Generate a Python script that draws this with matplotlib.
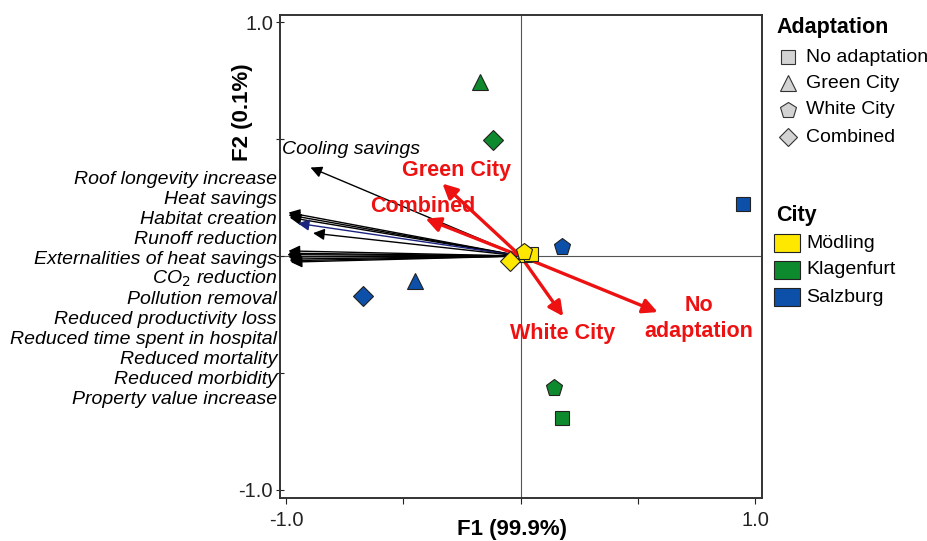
import matplotlib
matplotlib.use("Agg")
import matplotlib.pyplot as plt
from matplotlib.patches import Rectangle

plt.rcParams['font.family'] = ['Liberation Sans', 'DejaVu Sans']

# ---------------- data ----------------
var_names = ["Cooling savings", "Roof longevity increase", "Heat savings", "Habitat creation",
             "Runoff reduction", "Externalities of heat savings", "CO$_2$ reduction",
             "Pollution removal", "Reduced productivity loss", "Reduced time spent in hospital",
             "Reduced mortality", "Reduced morbidity", "Property value increase"]
var_x = [-0.896, -0.99, -0.99, -0.985, -0.95, -0.885, -0.99, -0.995, -0.99, -0.985, -0.98, -0.99, -0.985]
var_y = [0.379, 0.186, 0.176, 0.165, 0.140, 0.098, 0.022, 0.006, -0.004, -0.013, -0.026, 0.012, -0.020]
var_col = ["black", "black", "black", "black", "#1a237e", "black", "black", "black", "black",
           "black", "black", "black", "black"]

adapt_names = ["Green City", "Combined", "White City", "No\nadaptation"]
adapt_x = [-0.333, -0.405, 0.182, 0.585]
adapt_y = [0.310, 0.160, -0.258, -0.240]
adapt_label_x = [-0.275, -0.416, 0.18, 0.761]
adapt_label_y = [0.368, 0.214, -0.333, -0.266]

cities = ["Mödling", "Klagenfurt", "Salzburg"]
city_colors = ["#FFE800", "#0E8A2E", "#0D50AA"]
adaptations = ["No adaptation", "Green City", "White City", "Combined"]
adapt_markers = ["s", "^", "p", "D"]

# scores: city -> [No adaptation, Green City, White City, Combined]
score_x = {"Mödling": [0.043, 0.013, 0.013, -0.043],
           "Klagenfurt": [0.175, -0.175, 0.141, -0.117],
           "Salzburg": [0.951, -0.452, 0.179, -0.670]}
score_y = {"Mödling": [0.008, 0.010, 0.016, -0.022],
           "Klagenfurt": [-0.692, 0.743, -0.563, 0.495],
           "Salzburg": [0.221, -0.105, 0.038, -0.170]}

marker_size = {"s": 10.5, "^": 11.5, "p": 12.5, "D": 10}
marker_z = {"s": 7, "^": 6.5, "p": 7.2, "D": 7.1}

# ---------------- figure ----------------
fig = plt.figure(figsize=(9.28, 5.41), dpi=100)
ax = fig.add_axes([280/928, 1-498/541, (762-280)/928, (498-15)/541])
ax.set_xlim(-1.026, 1.030)
ax.set_ylim(-1.036, 1.032)

ax.axhline(0, color="#555555", lw=0.8, zorder=1)
ax.axvline(0, color="#555555", lw=0.8, zorder=1)

for s in ax.spines.values():
    s.set_color("#333333")
    s.set_linewidth(1.4)

ax.set_xticks([-1, -0.5, 0, 0.5, 1])
ax.set_xticklabels(["-1.0", "", "", "", "1.0"])
ax.set_yticks([-1, -0.5, 0, 0.5, 1])
ax.set_yticklabels(["-1.0", "", "", "", "1.0"])
ax.tick_params(axis="x", direction="out", length=4, width=0.8, labelsize=14.5, pad=5, colors="#222222")
ax.tick_params(axis="y", direction="inout", length=6, width=0.8, labelsize=14.5, pad=2, colors="#222222")

# variable arrows
for x, y, c in zip(var_x, var_y, var_col):
    ax.annotate("", xy=(x, y), xytext=(0, 0),
                arrowprops=dict(arrowstyle="-|>", color=c, lw=1.0, mutation_scale=17,
                                shrinkA=0, shrinkB=0), zorder=3)

ax.text(-1.018, 0.455, var_names[0], fontsize=14, style="italic", ha="left", va="center", zorder=4)

# left column of variable labels (outside axes)
for i, name in enumerate(var_names[1:]):
    fig.text(277/928, 1 - (179 + 20*i)/541, name, fontsize=14, style="italic",
             ha="right", va="center")

# adaptation supplementary arrows
for x, y in zip(adapt_x, adapt_y):
    ax.annotate("", xy=(x, y), xytext=(0, 0),
                arrowprops=dict(arrowstyle="-|>", color="#EE1111", lw=2.4, mutation_scale=22,
                                shrinkA=0, shrinkB=0), zorder=5)
for name, lx, ly in zip(adapt_names, adapt_label_x, adapt_label_y):
    ax.text(lx, ly, name, color="#EE1111", fontsize=15.5, fontweight="bold",
            ha="center", va="center", linespacing=1.3, zorder=6)

# scores
for city, col in zip(cities, city_colors):
    for j, m in enumerate(adapt_markers):
        ax.plot(score_x[city][j], score_y[city][j], marker=m, color=col, ms=marker_size[m],
                markeredgecolor="#222222", markeredgewidth=0.8, linestyle="none",
                zorder=marker_z[m])

fig.text(512/928, 1 - 530/541, "F1 (99.9%)", fontsize=16, fontweight="bold", ha="center", va="center")
fig.text(243/928, 1 - 112/541, "F2 (0.1%)", fontsize=16, fontweight="bold", ha="center",
         va="center", rotation=90)

# ---------------- legends (overlay in pixel coords) ----------------
lg = fig.add_axes([0, 0, 1, 1], zorder=10)
lg.set_xlim(0, 928)
lg.set_ylim(541, 0)
lg.axis("off")

lg.text(776, 27, "Adaptation", fontsize=15.5, fontweight="bold", ha="left", va="center")
leg_y = [57, 83, 110, 137]
leg_ms = {"s": 10, "^": 12, "p": 12, "D": 9}
for m, lab, yy in zip(adapt_markers, adaptations, leg_y):
    lg.plot(788, yy, marker=m, color="#D3D3D3", ms=leg_ms[m], markeredgecolor="#333333",
            markeredgewidth=0.8, linestyle="none")
    lg.text(806, yy, lab, fontsize=14, ha="left", va="center")

lg.text(776, 216, "City", fontsize=15.5, fontweight="bold", ha="left", va="center")
city_y = [243, 270, 297]
for col, lab, yy in zip(city_colors, cities, city_y):
    lg.add_patch(Rectangle((774, yy - 9), 26, 18, facecolor=col, edgecolor="#222222", lw=0.8))
    lg.text(806, yy, lab, fontsize=14, ha="left", va="center")

fig.savefig("out.png", dpi=100)
